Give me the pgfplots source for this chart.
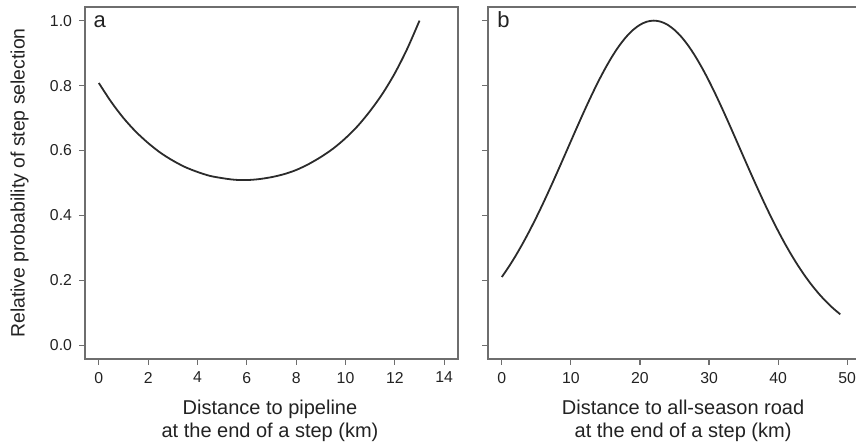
\documentclass[border=0pt]{standalone}
\usepackage{fontspec}
\setmainfont{Liberation Sans}
\usepackage{pgfplots}
\pgfplotsset{compat=1.18}

\definecolor{boxgray}{HTML}{6E6E6E}
\definecolor{curvecol}{HTML}{2B2B2B}
\definecolor{txt}{HTML}{222222}

% relative probability vs distance to pipeline (km)
\pgfplotstableread{
x y
0.0 0.808
0.5 0.750
1.0 0.700
1.5 0.658
2.0 0.623
2.5 0.593
3.0 0.569
3.5 0.549
4.0 0.534
4.5 0.522
5.0 0.515
5.5 0.510
6.0 0.509
6.5 0.512
7.0 0.518
7.5 0.527
8.0 0.540
8.5 0.558
9.0 0.580
9.5 0.606
10.0 0.638
10.5 0.676
11.0 0.722
11.5 0.775
12.0 0.838
12.5 0.913
13.0 1.000
}\pipeline

% relative probability vs distance to all-season road (km)
\pgfplotstableread{
x y
0 0.2105
1 0.2417
2 0.2758
3 0.3127
4 0.3523
5 0.3943
6 0.4385
7 0.4846
8 0.5320
9 0.5803
10 0.6289
11 0.6773
12 0.7247
13 0.7704
14 0.8138
15 0.8540
16 0.8906
17 0.9227
18 0.9498
19 0.9714
20 0.9872
21 0.9968
22 1.0000
23 0.9968
24 0.9872
25 0.9714
26 0.9498
27 0.9227
28 0.8906
29 0.8540
30 0.8138
31 0.7704
32 0.7247
33 0.6773
34 0.6289
35 0.5803
36 0.5320
37 0.4846
38 0.4385
39 0.3943
40 0.3523
41 0.3127
42 0.2758
43 0.2417
44 0.2105
45 0.1821
46 0.1565
47 0.1337
48 0.1134
49 0.0956
}\road

\pgfplotsset{
  panel/.style={
    scale only axis, width=186.5pt, height=176pt, anchor=south west,
    ymin=-0.042, ymax=1.042, ytick={0,0.2,0.4,0.6,0.8,1.0},
    axis line style={boxgray, line width=0.6pt},
    tick style={boxgray, line width=0.6pt},
    tick align=outside, major tick length=3pt,
    xtick pos=bottom, ytick pos=left,
    tick label style={font=\fontsize{7.9}{9}\selectfont, text=txt},
    /pgf/number format/assume math mode=true,
    label style={font=\fontsize{10}{11.5}\selectfont, text=txt, align=center},
  },
  curve/.style={curvecol, line width=0.9pt, mark=none, smooth},
}
\tikzset{tag/.style={font=\fontsize{11}{12}\selectfont, text=txt, anchor=base west, inner sep=0pt}}

\begin{document}
\begin{tikzpicture}
\begin{axis}[panel, at={(42.5pt,42pt)},
  xmin=-0.56, xmax=14.56, xtick={0,2,...,14},
  yticklabel style={/pgf/number format/.cd, fixed, fixed zerofill, precision=1},
  xlabel={Distance to pipeline\\at the end of a step (km)},
  xlabel style={at={(axis description cs:0.496,0)}, anchor=north, yshift=-20.5pt, inner sep=0pt},
  ylabel={Relative probability of step selection},
  ylabel style={at={(axis description cs:-0.175,0.5)}, anchor=center, inner sep=0pt,
    font=\fontsize{9.7}{11}\selectfont},
]
\addplot[curve] table[x=x, y=y] {\pipeline};
\node[tag] at (rel axis cs:0.022,0.943) {a};
\end{axis}

\begin{axis}[panel, at={(244pt,42pt)},
  xmin=-2, xmax=52, xtick={0,10,...,50},
  yticklabels={},
  xlabel={Distance to all-season road\\at the end of a step (km)},
  xlabel style={at={(axis description cs:0.523,0)}, anchor=north, yshift=-20.5pt, inner sep=0pt},
]
\addplot[curve] table[x=x, y=y] {\road};
\node[tag] at (rel axis cs:0.024,0.943) {b};
\end{axis}
\pgfresetboundingbox
\path (0,0) rectangle (428pt,221.5pt);
\end{tikzpicture}
\end{document}
